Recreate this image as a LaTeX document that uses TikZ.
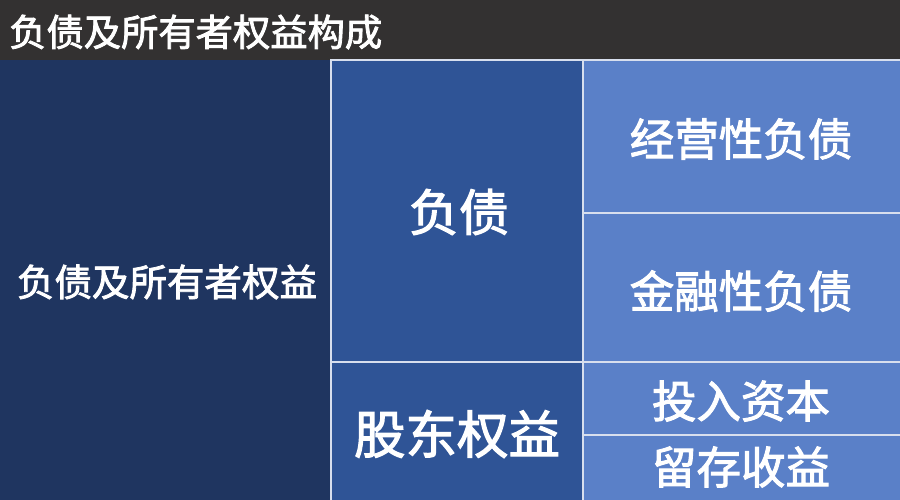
\documentclass[tikz,border=0pt]{standalone}
\usepackage{fontspec}
\newfontfamily\cjk[FakeBold=2.2]{Noto Sans CJK SC}
\definecolor{titlebg}{HTML}{333131}
\definecolor{cA}{HTML}{1F3560}
\definecolor{cB}{HTML}{2F5496}
\definecolor{cC}{HTML}{5A80C8}
\definecolor{sep}{HTML}{D8DFEE}
\begin{document}
\begin{tikzpicture}[x=1pt,y=-1pt,
  cell/.style={draw=sep,line width=1.2pt},
  lbl/.style={text=white,font=\cjk,inner sep=0pt,anchor=center}]
\useasboundingbox (0,0) rectangle (900,500);
\fill[titlebg] (0,0) rectangle (900,60);
\node[lbl,anchor=west,font=\cjk\fontsize{37.3}{40}\selectfont] (title) at (9,32) {负债及所有者权益构成};
% column 1
\fill[cA] (0,60) rectangle (331,500);
% column 2
\filldraw[cell,fill=cB] (331,60) rectangle (583,362);
\filldraw[cell,fill=cB] (331,362) rectangle (583,501);
% column 3
\filldraw[cell,fill=cC] (583,60) rectangle (901,213);
\filldraw[cell,fill=cC] (583,213) rectangle (901,362);
\filldraw[cell,fill=cC] (583,362) rectangle (901,435);
\filldraw[cell,fill=cC] (583,435) rectangle (901,501);
% labels
\node[lbl,font=\cjk\fontsize{37.5}{40}\selectfont] (a) at (167,282) {负债及所有者权益};
\node[lbl,font=\cjk\fontsize{50}{54}\selectfont] (b1) at (459,212) {负债};
\node[lbl,font=\cjk\fontsize{51.5}{55}\selectfont] (b2) at (457,434) {股东权益};
\node[lbl,font=\cjk\fontsize{44.5}{48}\selectfont] (c1) at (741,139) {经营性负债};
\node[lbl,font=\cjk\fontsize{44.5}{48}\selectfont] (c2) at (741,291) {金融性负债};
\node[lbl,font=\cjk\fontsize{44.5}{48}\selectfont] (c3) at (741,401) {投入资本};
\node[lbl,font=\cjk\fontsize{44.5}{48}\selectfont] (c4) at (741,467) {留存收益};
\end{tikzpicture}
\end{document}
